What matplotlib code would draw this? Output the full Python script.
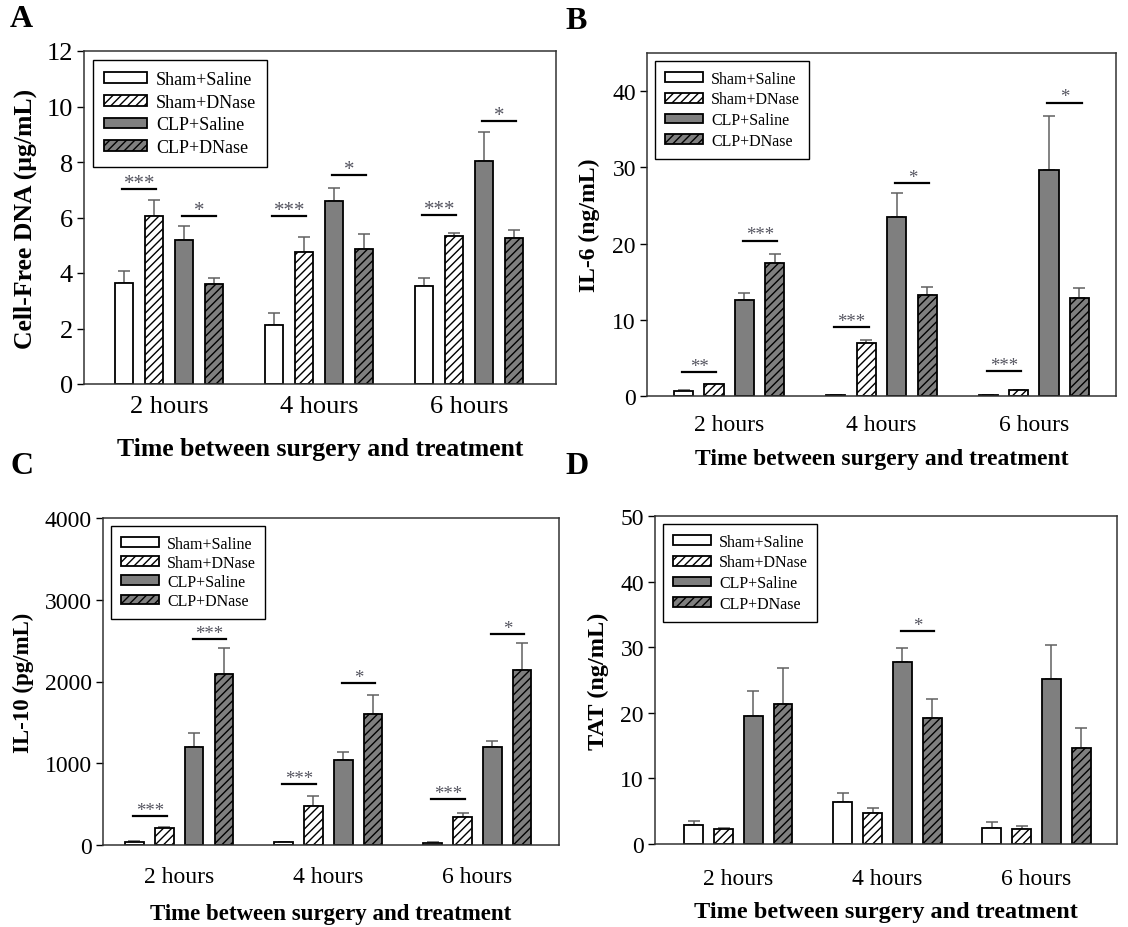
import numpy as np
import matplotlib
matplotlib.use("Agg")
import matplotlib.pyplot as plt
from matplotlib.patches import Patch

plt.rcParams['font.family'] = ['Liberation Serif', 'DejaVu Serif']
plt.rcParams['hatch.linewidth'] = 1.0

groups = ['2 hours', '4 hours', '6 hours']
series = ['Sham+Saline', 'Sham+DNase', 'CLP+Saline', 'CLP+DNase']
xlabel = 'Time between surgery and treatment'

# panel A - cell-free DNA (ug/mL)
dna_mean = [[3.65, 2.13, 3.54],
            [6.07, 4.77, 5.32],
            [5.19, 6.60, 8.02],
            [3.62, 4.86, 5.26]]
dna_err = [[0.42, 0.42, 0.29],
           [0.56, 0.52, 0.12],
           [0.49, 0.45, 1.07],
           [0.20, 0.53, 0.28]]
dna_sig = [(0, 0, 1, 7.04, '***'), (0, 2, 3, 6.04, '*'),
           (1, 0, 1, 6.04, '***'), (1, 2, 3, 7.52, '*'),
           (2, 0, 1, 6.08, '***'), (2, 2, 3, 9.46, '*')]

# panel B - IL-6 (ng/mL)
il6_mean = [[0.70, 0.12, 0.08],
            [1.60, 7.00, 0.80],
            [12.6, 23.5, 29.7],
            [17.5, 13.3, 12.8]]
il6_err = [[0.15, 0.0, 0.0],
           [0.0, 0.40, 0.0],
           [0.95, 3.1, 7.1],
           [1.1, 0.95, 1.4]]
il6_sig = [(0, 0, 1, 3.1, '**'), (0, 2, 3, 20.4, '***'),
           (1, 0, 1, 9.1, '***'), (1, 2, 3, 28.0, '*'),
           (2, 0, 1, 3.3, '***'), (2, 2, 3, 38.5, '*')]

# panel C - IL-10 (pg/mL)
il10_mean = [[40, 35, 30],
             [204, 482, 347],
             [1196, 1037, 1196],
             [2086, 1608, 2135]]
il10_err = [[5, 5, 5],
            [11, 118, 45],
            [171, 106, 77],
            [322, 225, 334]]
il10_sig = [(0, 0, 1, 360, '***'), (0, 2, 3, 2514, '***'),
            (1, 0, 1, 747, '***'), (1, 2, 3, 1984, '*'),
            (2, 0, 1, 563, '***'), (2, 2, 3, 2576, '*')]

# panel D - TAT (ng/mL)
tat_mean = [[2.96, 6.4, 2.5],
            [2.3, 4.7, 2.3],
            [19.5, 27.7, 25.1],
            [21.3, 19.2, 14.6]]
tat_err = [[0.5, 1.3, 0.8],
           [0.2, 0.8, 0.4],
           [3.8, 2.2, 5.3],
           [5.6, 2.9, 3.1]]
tat_sig = [(1, 2, 3, 32.4, '*')]

fills = ['white', 'white', '#7f7f7f', '#7f7f7f']
hatches = [None, '////', None, '////']
offsets = [-0.3, -0.1, 0.1, 0.3]
width = 0.125


def panel(ax, mean, err, sig, ylabel, ylim, yticks, xlim, fs, labfs, legfs,
          legsp, ylabpad, xlabpad, xtickpad, letter, letter_xy):
    x = np.arange(1, len(groups) + 1)
    for i in range(4):
        ax.bar(x + offsets[i], mean[i], width, color=fills[i],
               edgecolor='black', linewidth=1.3, hatch=hatches[i], zorder=2)
        ax.errorbar(x + offsets[i], mean[i],
                    yerr=[np.zeros(len(groups)), err[i]], fmt='none',
                    ecolor='#606060', elinewidth=1.1, capsize=4,
                    capthick=1.1, zorder=1)
    for g, a, b, y, lab in sig:
        x0 = x[g] + offsets[a] - 0.01
        x1 = x[g] + offsets[b] + 0.015
        ax.plot([x0, x1], [y, y], color='black', lw=1.6, zorder=3)
        ax.annotate(lab, ((x0 + x1) / 2, y), xytext=(0, 4),
                    textcoords='offset points', ha='center', va='center',
                    fontsize=legfs + 2, color='#555560', zorder=3)
    ax.set_xlim(*xlim)
    ax.set_ylim(*ylim)
    ax.set_yticks(yticks)
    ax.set_xticks(x)
    ax.set_xticklabels(groups)
    ax.tick_params(axis='x', length=0, labelsize=fs, pad=xtickpad)
    ax.tick_params(axis='y', length=5, width=1, labelsize=fs, pad=3,
                   direction='out')
    for s in ax.spines.values():
        s.set_linewidth(1.1)
        s.set_color('#333333')
    ax.set_ylabel(ylabel, fontsize=labfs, fontweight='bold', labelpad=ylabpad)
    ax.set_xlabel(xlabel, fontsize=labfs, fontweight='bold', labelpad=xlabpad)
    handles = [Patch(facecolor=fills[i], edgecolor='black', hatch=hatches[i],
                     linewidth=1.3) for i in range(4)]
    leg = ax.legend(handles, series, loc='upper left', fontsize=legfs,
                    frameon=True, fancybox=False, edgecolor='black',
                    framealpha=1, handlelength=2.4, handleheight=0.55,
                    handletextpad=0.5, labelspacing=legsp,
                    borderaxespad=0.5, borderpad=0.6)
    leg.get_frame().set_linewidth(1.0)
    leg.set_zorder(5)
    ax.figure.text(letter_xy[0], letter_xy[1], letter, fontsize=23,
                   fontweight='bold', ha='left', va='top')


fig = plt.figure(figsize=(11.28, 9.28), dpi=100)
W, H = 1128, 928
axA = fig.add_axes([84 / W, 1 - 385 / H, 472 / W, 333 / H])
axB = fig.add_axes([647 / W, 1 - 397 / H, 469 / W, 343 / H])
axC = fig.add_axes([103 / W, 1 - 846 / H, 456 / W, 327 / H])
axD = fig.add_axes([655 / W, 1 - 845 / H, 462 / W, 328 / H])

panel(axA, dna_mean, dna_err, dna_sig, 'Cell-Free DNA (\u03bcg/mL)',
      (0, 12), range(0, 13, 2), (0.434, 3.58), 19, 18.5, 13, 0.32, 7, 14, 8,
      'A', (10 / W, 1 - 5 / H))
panel(axB, il6_mean, il6_err, il6_sig, 'IL-6 (ng/mL)',
      (0, 45), range(0, 41, 10), (0.46, 3.54), 17, 17, 11.5, 0.3, 9, 9, 13,
      'B', (565 / W, 1 - 7 / H))
panel(axC, il10_mean, il10_err, il10_sig, 'IL-10 (pg/mL)',
      (0, 4000), range(0, 4001, 1000), (0.489, 3.547), 17, 16.5, 11.5, 0.2,
      8, 12, 15, 'C', (10 / W, 1 - 452 / H))
panel(axD, tat_mean, tat_err, tat_sig, 'TAT (ng/mL)',
      (0, 50), range(0, 51, 10), (0.44, 3.54), 17, 17.5, 11.5, 0.3, 8, 9, 17,
      'D', (565 / W, 1 - 452 / H))

fig.savefig('out.png', dpi=100)
